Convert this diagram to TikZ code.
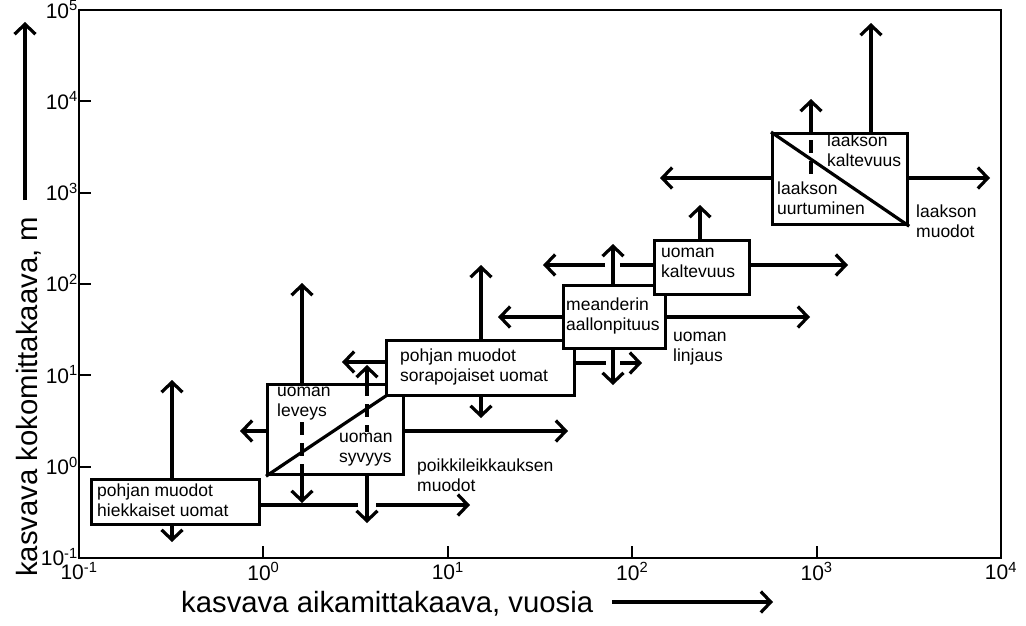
\documentclass[tikz,border=0pt]{standalone}
\usepackage{fontspec}
\setmainfont{Liberation Sans}
\usetikzlibrary{arrows.meta}
\tikzset{
  frame/.style={line width=1.9pt},
  box/.style={draw,line width=3.2pt,fill=white,inner sep=0pt,anchor=north west},
  lbl/.style={font=\fontsize{17.5}{20}\selectfont,align=left,inner sep=0pt,anchor=north west,
    execute at begin node=\rule{0pt}{12.5pt}},
  ln/.style={line width=3.2pt},
  arr/.style={line width=3.2pt,-{Straight Barb[length=10pt,width=21pt]}},
  dsh/.style={line width=3.2pt,dash pattern=on 13pt off 8pt},
  tk/.style={font=\fontsize{21}{24}\selectfont,inner sep=0pt},
  ttl/.style={font=\fontsize{29.3}{32}\selectfont,inner sep=0pt},
}
\begin{document}
\begin{tikzpicture}[x=1pt,y=-1pt]
\useasboundingbox (0,0) rectangle (1026,625);

% axes frame with decade ticks
\draw[frame] (79,10) rectangle (1001,558);
\foreach \i in {1,...,4} \draw[frame] ({79+\i*184.4},558) -- ++(0,-12);
\foreach \i in {1,...,5} \draw[frame] (79,{10+\i*91.33}) -- ++(12,0);

% tick labels
\foreach \e [count=\i from 0] in {-1,0,1,2,3,4}
  \node[tk,anchor=north] (xl\i) at ({79+\i*184.4},562) {10\textsuperscript{\e}};
\foreach \e [count=\i from 0] in {5,4,3,2,1,0,-1}
  \node[tk,anchor=base east] (yl\i) at (78,{10+\i*91.33+8}) {10\textsuperscript{\e}};

% axis titles
\node[ttl,anchor=base west] (xt) at (181,612) {kasvava aikamittakaava, vuosia};
\coordinate (xa0) at (612,602);
\coordinate (xa1) at (773,602);
\draw[arr] (xa0) -- (xa1);
\node[ttl,anchor=base west,rotate=90] (yt) at (37,577) {kasvava kokomittakaava, m};
\coordinate (ya0) at (25,200);
\coordinate (ya1) at (25,22);
\draw[arr] (ya0) -- (ya1);

% boxes
\node[box,minimum width=168pt,minimum height=45pt] (A) at (90,478) {};
\node[box,minimum width=136pt,minimum height=90pt] (B) at (266,383) {};
\draw[ln] (B.south west) -- (B.north east);
\node[box,minimum width=188pt,minimum height=55pt] (C) at (385,339) {};
\node[box,minimum width=102pt,minimum height=63pt] (D) at (562,284) {};
\node[box,minimum width=95pt,minimum height=54pt] (E) at (653,239) {};
\node[box,minimum width=135pt,minimum height=91pt] (F) at (771,132) {};
\draw[ln] (F.north west) -- (F.south east);

% labels
\node[lbl] (tA) at (97,484) {pohjan muodot\\hiekkaiset uomat};
\node[lbl] (tB1) at (277,387) {uoman\\leveys};
\node[lbl] (tB2) at (339,433) {uoman\\syvyys};
\node[lbl] (tP) at (417,459) {poikkileikkauksen\\muodot};
\node[lbl] (tC) at (400,349) {pohjan muodot\\sorapojaiset uomat};
\node[lbl] (tD) at (566,298) {meanderin\\aallonpituus};
\node[lbl] (tL) at (673,332) {uoman\\linjaus};
\node[lbl] (tE) at (661,248) {uoman\\kaltevuus};
\node[lbl] (tF1) at (827,134) {laakson\\kaltevuus};
\node[lbl] (tF2) at (777,182) {laakson\\uurtuminen};
\node[lbl] (tM) at (916,205) {laakson\\muodot};

% free ends of the connectors
\coordinate (aU) at (172,380);
\coordinate (aD) at (172,542);
\coordinate (aR1) at (358,505);
\coordinate (aR2) at (376,505);
\coordinate (aR) at (470,505);
\coordinate (bL) at (240,431);
\coordinate (bU) at (302,283);
\coordinate (bD) at (302,503);
\coordinate (bQ) at (302,422);
\coordinate (bR) at (568,431);
\coordinate (sU) at (367,365);
\coordinate (sQ) at (367,432);
\coordinate (sD) at (367,523);
\coordinate (cL) at (342,362);
\coordinate (cU) at (481,265);
\coordinate (cD) at (481,418);
\coordinate (cR1) at (606,363);
\coordinate (cR2) at (620,363);
\coordinate (cR) at (642,363);
\coordinate (dL) at (498,317);
\coordinate (dR) at (810,317);
\coordinate (dU) at (613,244);
\coordinate (dD) at (613,385);
\coordinate (eL1) at (620,265);
\coordinate (eL2) at (605,265);
\coordinate (eL) at (543,265);
\coordinate (eR) at (848,265);
\coordinate (eU) at (700,205);
\coordinate (fL) at (660,178);
\coordinate (fR) at (990,178);
\coordinate (fU) at (811,99);
\coordinate (fQ) at (811,177);
\coordinate (fQ0) at (811,140);
\coordinate (gU) at (871,23);

% box A
\draw[arr] (aU |- A.north) -- (aU);
\draw[arr] (aD |- A.south) -- (aD);
\draw[ln] (A.east |- aR1) -- (aR1);
\draw[arr] (aR2) -- (aR);
% box B
\draw[arr] (B.west |- bL) -- (bL);
\draw[arr] (bU |- B.north) -- (bU);
\draw[dsh] (bQ) -- (bQ |- B.south);
\draw[arr] (bD |- B.south) -- (bD);
\draw[arr] (B.east |- bR) -- (bR);
\draw[arr] (sU |- B.north) -- (sU);
\draw[dsh] (sQ |- B.north) -- (sQ);
\draw[arr] (sD |- B.south) -- (sD);
% box C
\draw[arr] (C.west |- cL) -- (cL);
\draw[arr] (cU |- C.north) -- (cU);
\draw[arr] (cD |- C.south) -- (cD);
\draw[ln] (C.east |- cR1) -- (cR1);
\draw[arr] (cR2) -- (cR);
% box D
\draw[arr] (D.west |- dL) -- (dL);
\draw[arr] (D.east |- dR) -- (dR);
\draw[arr] (dU |- D.north) -- (dU);
\draw[arr] (dD |- D.south) -- (dD);
% box E
\draw[ln] (E.west |- eL1) -- (eL1);
\draw[arr] (eL2) -- (eL);
\draw[arr] (E.east |- eR) -- (eR);
\draw[arr] (eU |- E.north) -- (eU);
% box F
\draw[arr] (F.west |- fL) -- (fL);
\draw[arr] (F.east |- fR) -- (fR);
\draw[arr] (fU |- F.north) -- (fU);
\draw[dsh] (fQ0) -- (fQ);
\draw[arr] (gU |- F.north) -- (gU);
\end{tikzpicture}
\end{document}
